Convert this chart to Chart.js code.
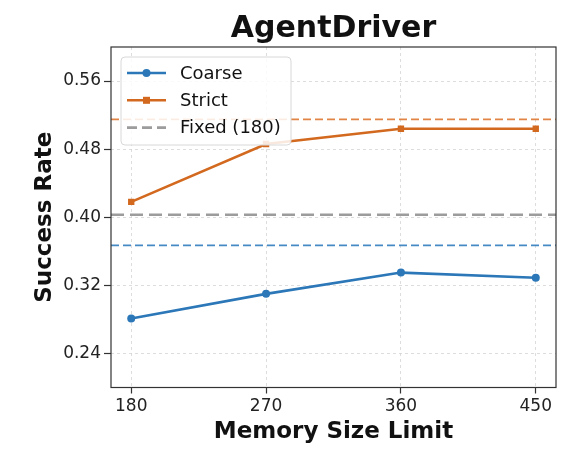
<!DOCTYPE html>
<html>
<head>
<meta charset="utf-8">
<script src="https://cdn.jsdelivr.net/npm/chart.js@4.4.0/dist/chart.umd.min.js"></script>
<style>
  html, body { margin: 0; padding: 0; background: #fff; }
  #wrap { width: 586px; height: 460px; }
</style>
</head>
<body>
<div id="wrap"><canvas id="myChart" width="586" height="460"></canvas></div>
<script>
var memorySizes = [180, 270, 360, 450];
var coarseRates = [0.281, 0.310, 0.335, 0.329];
var strictRates = [0.418, 0.486, 0.504, 0.504];
var yTicks = [0.24, 0.32, 0.40, 0.48, 0.56];
// horizontal reference lines
var coarseBaseline = 0.367;
var strictBaseline = 0.515;
var fixedBaseline = 0.403;

var blue = '#2b77b8';
var orange = '#d2691e';
var gray = '#9c9c9c';
var font = 'DejaVu Sans';

function toPoints(xs, ys) {
    return xs.map((x, i) => ({ x: x, y: ys[i] }));
}

var baselines = [
    { value: strictBaseline, color: 'rgba(221,120,50,0.9)', width: 1.8, dash: [8, 4] },
    { value: fixedBaseline, color: gray, width: 2.6, dash: [13, 6] },
    { value: coarseBaseline, color: 'rgba(50,125,190,0.9)', width: 1.8, dash: [8, 4] }
];

var legendItems = [
    { label: 'Coarse', color: blue, marker: 'circle', dash: [] },
    { label: 'Strict', color: orange, marker: 'square', dash: [] },
    { label: 'Fixed (180)', color: gray, marker: null, dash: [10, 5] }
];

var baselinePlugin = {
    id: 'baselines',
    beforeDatasetsDraw(chart) {
        let ctx = chart.ctx;
        let area = chart.chartArea;
        let y = chart.scales.y;
        ctx.save();
        baselines.forEach(b => {
            let py = y.getPixelForValue(b.value);
            ctx.strokeStyle = b.color;
            ctx.lineWidth = b.width;
            ctx.setLineDash(b.dash);
            ctx.beginPath();
            ctx.moveTo(area.left, py);
            ctx.lineTo(area.right, py);
            ctx.stroke();
        });
        ctx.restore();
    }
};

var framePlugin = {
    id: 'frame',
    afterDraw(chart) {
        let ctx = chart.ctx;
        let a = chart.chartArea;
        ctx.save();
        ctx.strokeStyle = '#333';
        ctx.lineWidth = 1.2;
        ctx.setLineDash([]);
        ctx.strokeRect(a.left, a.top, a.right - a.left, a.bottom - a.top);

        // legend inside plot, top-left
        let bx = a.left + 10, by = a.top + 10, bw = 170, bh = 88;
        ctx.fillStyle = 'rgba(255,255,255,0.85)';
        ctx.strokeStyle = '#d8d8d8';
        ctx.lineWidth = 1;
        ctx.beginPath();
        ctx.roundRect(bx, by, bw, bh, 4);
        ctx.fill();
        ctx.stroke();
        ctx.font = '18px "' + font + '"';
        ctx.textBaseline = 'middle';
        legendItems.forEach((it, i) => {
            let cy = by + 16 + i * 27.3;
            let x0 = bx + 6, x1 = bx + 45;
            ctx.strokeStyle = it.color;
            ctx.lineWidth = it.marker ? 2.4 : 2.6;
            ctx.setLineDash(it.dash);
            ctx.beginPath();
            ctx.moveTo(x0, cy);
            ctx.lineTo(x1, cy);
            ctx.stroke();
            ctx.setLineDash([]);
            ctx.fillStyle = it.color;
            let mx = (x0 + x1) / 2;
            if (it.marker === 'circle') {
                ctx.beginPath();
                ctx.arc(mx, cy, 4, 0, Math.PI * 2);
                ctx.fill();
            } else if (it.marker === 'square') {
                ctx.fillRect(mx - 3.5, cy - 3.5, 7, 7);
            }
            ctx.fillStyle = '#111';
            ctx.fillText(it.label, bx + 59, cy + 1);
        });
        ctx.restore();
    }
};

let ctx = document.getElementById('myChart').getContext('2d');

window.myChart = new Chart(ctx, {
    type: 'line',
    data: {
        datasets: [{
            label: 'Coarse',
            data: toPoints(memorySizes, coarseRates),
            borderColor: blue,
            backgroundColor: blue,
            borderWidth: 2.6,
            pointStyle: 'circle',
            pointRadius: 4,
            pointBorderWidth: 0,
            fill: false
        }, {
            label: 'Strict',
            data: toPoints(memorySizes, strictRates),
            borderColor: orange,
            backgroundColor: orange,
            borderWidth: 2.6,
            pointStyle: 'rect',
            pointRadius: 4.5,
            pointBorderWidth: 0,
            fill: false
        }]
    },
    options: {
        responsive: false,
        animation: false,
        devicePixelRatio: 1,
        layout: {
            padding: { left: 31, right: 30, top: 0, bottom: 14 }
        },
        scales: {
            x: {
                type: 'linear',
                min: 166.5,
                max: 463.5,
                afterBuildTicks: (scale) => {
                    scale.ticks = memorySizes.map(v => ({ value: v }));
                },
                afterFit: (scale) => { scale.height = 58.5; },
                ticks: {
                    color: '#222',
                    font: { family: font, size: 17 },
                    padding: 3,
                    maxRotation: 0,
                    callback: (v) => String(v)
                },
                grid: {
                    color: '#d5d5d5',
                    lineWidth: 0.8,
                    tickColor: '#333',
                    tickLength: 6,
                    tickWidth: 1.2,
                    tickBorderDash: []
                },
                border: { display: false, dash: [3, 3] },
                title: {
                    display: true,
                    text: 'Memory Size Limit',
                    color: '#111',
                    font: { family: font, size: 23, weight: 'bold' },
                    padding: { top: 0, bottom: 0 }
                }
            },
            y: {
                type: 'linear',
                min: 0.2,
                max: 0.6,
                afterBuildTicks: (scale) => {
                    scale.ticks = yTicks.map(v => ({ value: v }));
                },
                afterFit: (scale) => { scale.width = 80; },
                ticks: {
                    color: '#222',
                    font: { family: font, size: 17 },
                    padding: 3,
                    callback: (v) => v.toFixed(2)
                },
                grid: {
                    color: '#d5d5d5',
                    lineWidth: 0.8,
                    tickColor: '#333',
                    tickLength: 7,
                    tickWidth: 1.2,
                    tickBorderDash: []
                },
                border: { display: false, dash: [3, 3] },
                title: {
                    display: true,
                    text: 'Success Rate',
                    color: '#111',
                    font: { family: font, size: 23, weight: 'bold' },
                    padding: { top: 0, bottom: 0 }
                }
            }
        },
        plugins: {
            legend: { display: false },
            tooltip: { enabled: false },
            title: {
                display: true,
                fullSize: false,
                text: 'AgentDriver',
                color: '#111',
                font: { family: font, size: 30, weight: 'bold' },
                padding: { top: 11, bottom: 0 }
            }
        }
    },
    plugins: [baselinePlugin, framePlugin]
});
</script>
</body>
</html>
